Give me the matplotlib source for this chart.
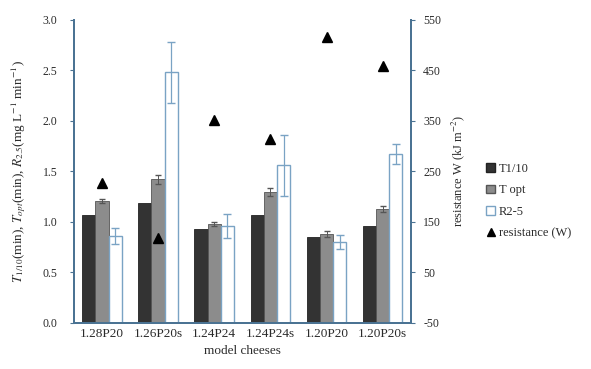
import numpy as np
import matplotlib
matplotlib.use("Agg")
import matplotlib.pyplot as plt
from matplotlib.lines import Line2D
from matplotlib.patches import Patch

plt.rcParams["font.family"] = ["Liberation Serif", "DejaVu Serif"]
plt.rcParams["mathtext.fontset"] = "stix"
plt.rcParams["axes.unicode_minus"] = False

# === Data ===
models = ["1.28P20", "1.26P20s", "1.24P24", "1.24P24s", "1.20P20", "1.20P20s"]
t_110 = [1.07, 1.19, 0.93, 1.07, 0.85, 0.96]
t_opt = [1.21, 1.42, 0.98, 1.30, 0.88, 1.13]
t_opt_err = [0.02, 0.04, 0.02, 0.04, 0.03, 0.03]
r25 = [0.86, 2.48, 0.96, 1.56, 0.80, 1.67]
r25_err = [0.08, 0.30, 0.12, 0.30, 0.07, 0.10]
resistance = [227, 118, 352, 314, 516, 459]

axis_col = "#4b7393"
edge_col = "#7aa3c4"
text_col = "#2b2b2b"

fig = plt.figure(figsize=(5.91, 3.69), dpi=100)
ax = fig.add_axes([0.125, 0.125, 0.57, 0.821])
ax2 = ax.twinx()

x = np.arange(len(models))
w = 0.235
ax.bar(x - w, t_110, w, color="#333333", edgecolor="#222222", linewidth=0.6, label="T1/10")
ax.bar(x, t_opt, w, color="#8c8c8c", edgecolor="#555555", linewidth=0.6,
       yerr=t_opt_err, error_kw=dict(ecolor="#555555", elinewidth=0.7, capsize=2), label="T opt")
ax.bar(x + w, r25, w, color="white", edgecolor=edge_col, linewidth=1.0,
       yerr=r25_err, error_kw=dict(ecolor=edge_col, elinewidth=0.9, capsize=3), label="R2-5")
ax2.plot(x, resistance, linestyle="none", marker="^", color="black", markersize=7.5)

ax.set_xlim(-0.5, len(models) - 0.5)
ax.set_ylim(0, 3.0)
ax.set_yticks(np.arange(0, 3.01, 0.5))
ax.set_yticklabels([f"{v:.1f}" for v in np.arange(0, 3.01, 0.5)])
ax2.set_ylim(-50, 550)
ax2.set_yticks(np.arange(-50, 551, 100))

ax.set_xticks(x)
ax.set_xticklabels(models)

for a in (ax, ax2):
    a.spines["top"].set_visible(False)
    for s in ("left", "right", "bottom"):
        a.spines[s].set_color(axis_col)
        a.spines[s].set_linewidth(1.4)
    a.tick_params(colors=axis_col, labelcolor=text_col, labelsize=8.5, length=3, width=0.8)
ax.tick_params(axis="y", pad=9)
ax2.tick_params(axis="y", pad=6)
ax.tick_params(axis="x", length=0, labelsize=9.5, pad=4)

ax.set_xlabel("model cheeses", fontsize=9.5, color=text_col, labelpad=3)
ax.set_ylabel(r"$T_{1/10}$(min), $T_{opt}$(min), $R_{2.5}$(mg L$^{-1}$ min$^{-1}$)",
              fontsize=9.5, color=text_col, labelpad=10)
ax2.set_ylabel(r"resistance W (kJ m$^{-2}$)", fontsize=9, color=text_col, labelpad=6)

handles = [
    Patch(facecolor="#333333", edgecolor="#222222", label="T1/10"),
    Patch(facecolor="#8c8c8c", edgecolor="#555555", label="T opt"),
    Patch(facecolor="white", edgecolor=edge_col, label="R2-5"),
    Line2D([], [], linestyle="none", marker="^", color="black", markersize=5.5, label="resistance (W)"),
]
fig.legend(handles=handles, loc="center left", bbox_to_anchor=(0.812, 0.455), frameon=False,
           fontsize=9, handlelength=0.7, handleheight=0.7, handletextpad=0.3,
           labelspacing=0.75, borderpad=0, labelcolor=text_col)

fig.savefig("out.png", dpi=100)
